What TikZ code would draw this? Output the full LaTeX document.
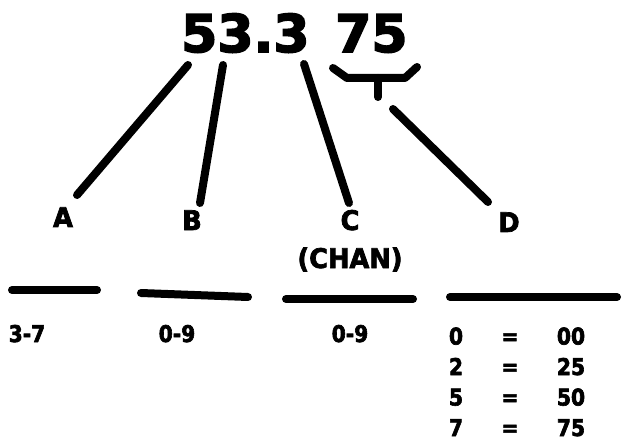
\documentclass[tikz,border=0pt]{standalone}
\usepackage{fontspec}
\setmainfont{DejaVu Sans}
\newfontfamily\heavyfont[FakeBold=3]{DejaVu Sans Bold}
\newfontfamily\heavyletter[FakeBold=2.6,FakeStretch=0.95]{DejaVu Sans Bold}
\newfontfamily\heavynarrow[FakeBold=2.6,FakeStretch=0.88]{DejaVu Sans Bold}
\begin{document}
\begin{tikzpicture}[x=1pt,y=-1pt,
  heavy/.style={line width=8pt,line cap=round,line join=round},
  bigfig/.style={font=\fontsize{52}{52}\heavyfont,inner sep=0pt,anchor=base west},
  letter/.style={font=\fontsize{27}{27}\heavyletter,inner sep=0pt,anchor=base},
  figs/.style={font=\fontsize{23}{23}\heavynarrow,inner sep=0pt,anchor=base}]
\useasboundingbox (0,0) rectangle (623,446);

% frequency figures
\node[bigfig] (freq) at (181,52) {53.3};
\node[bigfig] (frac) at (335,52) {75};

% bracket under the last two digits
\draw[heavy] (333,68) -- (347,78) -- (405,78) -- (417,67);
\draw[heavy] (378,78) -- (378,97);

% digit groups
\node[letter] (A) at (63,227) {A};
\node[letter] (B) at (192,230) {B};
\node[letter] (C) at (350,230) {C};
\node[letter] (chan) at (350,268) {(CHAN)};
\node[letter] (D) at (509,232) {D};

% leader lines
\coordinate (a0) at (188,65);
\coordinate (a1) at (77,195);
\coordinate (b0) at (223,65);
\coordinate (b1) at (200,203);
\coordinate (c0) at (304,64);
\coordinate (c1) at (349,203);
\coordinate (d0) at (393,109);
\coordinate (d1) at (488,202);
\draw[heavy] (a0) -- (a1);
\draw[heavy] (b0) -- (b1);
\draw[heavy] (c0) -- (c1);
\draw[heavy] (d0) -- (d1);

% rules
\coordinate (r1a) at (12,290);  \coordinate (r1b) at (97,290);
\coordinate (r2a) at (141,293); \coordinate (r2b) at (248,297);
\coordinate (r3a) at (286,299); \coordinate (r3b) at (413,299);
\coordinate (r4a) at (450,297); \coordinate (r4b) at (617,297);
\draw[heavy] (r1a) -- (r1b);
\draw[heavy] (r2a) -- (r2b);
\draw[heavy] (r3a) -- (r3b);
\draw[heavy] (r4a) -- (r4b);

% ranges
\node[figs] (ra) at (27,342) {3-7};
\node[figs] (rb) at (177,342) {0-9};
\node[figs] (rc) at (350,342) {0-9};

% table for the last digit
\foreach \l/\r [count=\i] in {0/00,2/25,5/50,7/75}{
  \node[figs] (tl\i) at (456,314+\i*30.5) {\l};
  \node[figs] (te\i) at (510,314+\i*30.5) {=};
  \node[figs] (tr\i) at (571,314+\i*30.5) {\r};
}
\end{tikzpicture}
\end{document}
